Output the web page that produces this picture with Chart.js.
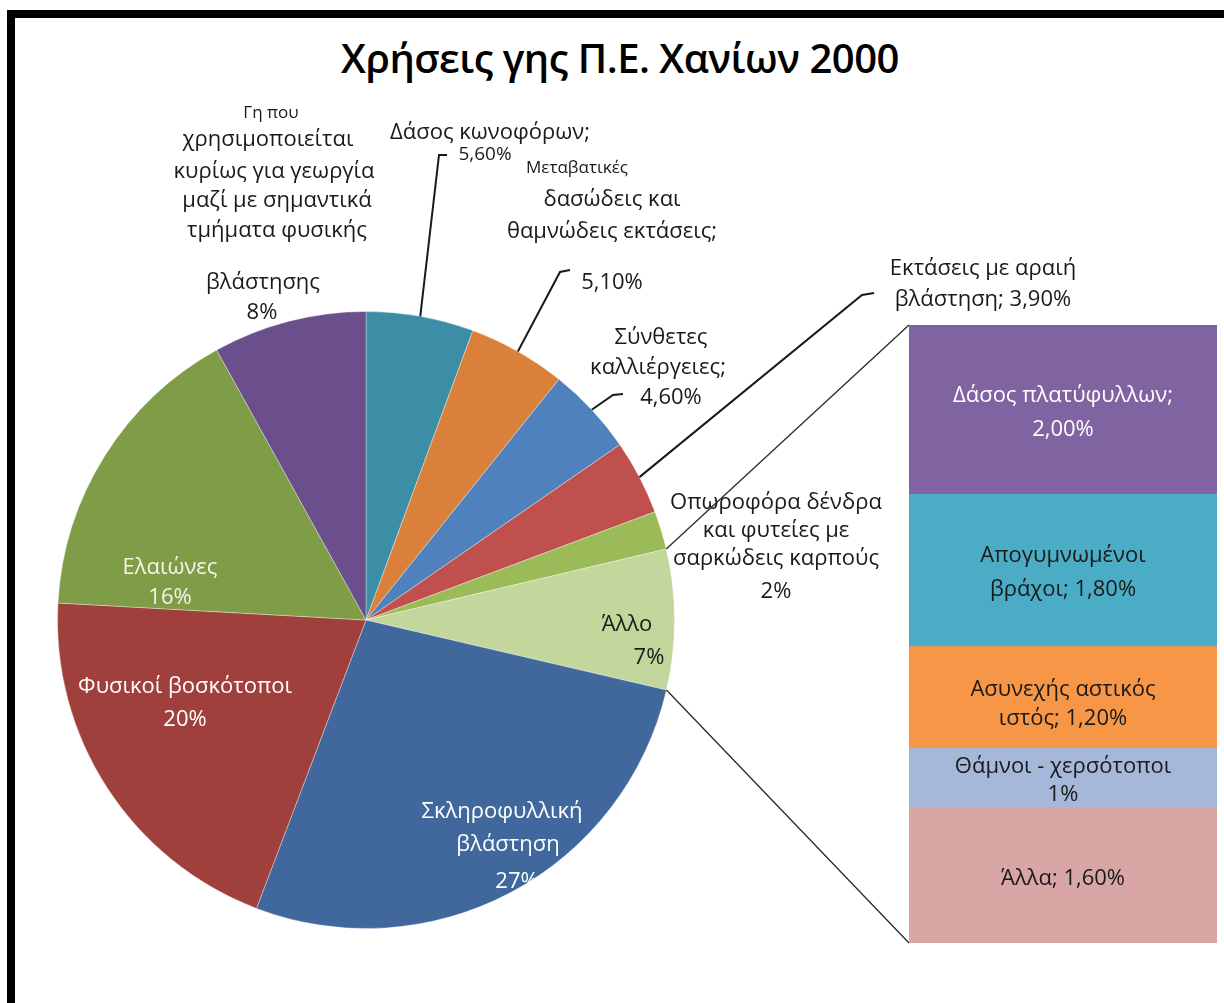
<!DOCTYPE html>
<html lang="el">
<head>
<meta charset="utf-8">
<title>Χρήσεις γης Π.Ε. Χανίων 2000</title>
<script src="https://cdn.jsdelivr.net/npm/chart.js@4.4.1/dist/chart.umd.min.js"></script>
<style>
  html, body { margin: 0; padding: 0; background: #fff; overflow: hidden; }
  #stage { position: relative; width: 1224px; height: 1003px; overflow: hidden; }
  #frame {
    position: absolute; left: 7px; top: 10px; width: 1300px; height: 1100px;
    border: 8px solid #000; box-sizing: border-box;
  }
  #title {
    position: absolute; left: 0; top: 28px; width: 1240px; text-align: center;
    font-family: "Open Sans", "Noto Sans", sans-serif; font-size: 40px; font-weight: 600;
    color: #000; line-height: 60px; letter-spacing: -0.5px;
  }
  canvas { position: absolute; left: 0; top: 0; }
</style>
</head>
<body>
<div id="stage">
  <div id="frame"></div>
  <div id="title">Χρήσεις γης Π.Ε. Χανίων 2000</div>
  <canvas id="pieChart" width="1224" height="1003"></canvas>
  <canvas id="barChart" width="1224" height="1003"></canvas>
</div>
<script>
// Bar of the "Άλλο" slice, top to bottom
const barCategories = ['Δάσος πλατύφυλλων', 'Απογυμνωμένοι βράχοι', 'Ασυνεχής αστικός ιστός', 'Θάμνοι - χερσότοποι', 'Άλλα'];
const barValues = [2.0, 1.8, 1.2, 0.7, 1.6];
const otherTotal = barValues.reduce((a, b) => a + b, 0);

// Pie slices, clockwise from 12 o'clock
const pieCategories = [
    'Δάσος κωνοφόρων',
    'Μεταβατικές δασώδεις και θαμνώδεις εκτάσεις',
    'Σύνθετες καλλιέργειες',
    'Εκτάσεις με αραιή βλάστηση',
    'Οπωροφόρα δένδρα και φυτείες με σαρκώδεις καρπούς',
    'Άλλο',
    'Σκληροφυλλική βλάστηση',
    'Φυσικοί βοσκότοποι',
    'Ελαιώνες',
    'Γη που χρησιμοποιείται κυρίως για γεωργία μαζί με σημαντικά τμήματα φυσικής βλάστησης'
];
const pieValues = [5.6, 5.1, 4.6, 3.9, 2, otherTotal, 27, 20, 16, 8];

const pieColors = ['#3B8EA5', '#D9813A', '#4F81BD', '#C0504D', '#9BBB59', '#C3D69B', '#41689C', '#A0403D', '#7F9C46', '#6A4F8C'];
const barColors = ['#8064A2', '#4BACC6', '#F79646', '#A5B8D9', '#D9A6A6'];

const FONT = '"Open Sans", "Noto Sans", sans-serif';
const DARK = '#1a1a1a';
const WHITE = '#ffffff';

const pct2 = v => v.toFixed(2).replace('.', ',') + '%';
const pct0 = v => Math.round(v) + '%';

// Label placement for the pie (same order as pieCategories)
const pieLabelLayout = [
    { lines: ['Δάσος κωνοφόρων;', '{v}'], fmt: 'dec', x: [490, 485], y: [133, 155], sizes: [22, 19], leader: [[439, 155], [447, 155]] },
    { lines: ['Μεταβατικές', 'δασώδεις και', 'θαμνώδεις εκτάσεις;', '{v}'], fmt: 'dec', x: [577, 612, 612, 612], y: [168, 200, 232, 283], sizes: [17, 22, 22, 22], leader: [[560, 272], [570, 270]] },
    { lines: ['Σύνθετες', 'καλλιέργειες;', '{v}'], fmt: 'dec', x: [661, 658, 671], y: [338, 368, 398], leader: [[613, 395], [623, 394]] },
    { lines: ['Εκτάσεις με αραιή', 'βλάστηση; {v}'], fmt: 'dec', x: 983, y: [269, 300], leader: [[862, 295], [874, 293]] },
    { lines: ['Οπωροφόρα δένδρα', 'και φυτείες με', 'σαρκώδεις καρπούς', '{v}'], fmt: 'int', x: 776, y: [503, 531, 559, 592] },
    { lines: ['Άλλο', '{v}'], fmt: 'int', x: [627, 649], y: [625, 658] },
    { lines: ['Σκληροφυλλική', 'βλάστηση', '{v}'], fmt: 'int', x: [502, 508, 517], y: [812, 845, 882], color: WHITE },
    { lines: ['Φυσικοί βοσκότοποι', '{v}'], fmt: 'int', x: 185, y: [687, 720], color: WHITE },
    { lines: ['Ελαιώνες', '{v}'], fmt: 'int', x: 170, y: [568, 598], color: '#f4f4ea' },
    { lines: ['Γη που', 'χρησιμοποιείται', 'κυρίως για γεωργία', 'μαζί με σημαντικά', 'τμήματα φυσικής', 'βλάστησης', '{v}'], fmt: 'int',
      x: [271, 268, 274, 277, 277, 263, 262], y: [113, 140, 172, 201, 231, 283, 313], sizes: [17, 22, 22, 22, 22, 22, 22] }
];

// Label placement inside the bar segments (same order as barCategories), offsets from segment centre
const barLabelLayout = [
    { lines: ['Δάσος πλατύφυλλων;', '{v}'], fmt: 'dec', dy: [-14, 20], color: WHITE },
    { lines: ['Απογυμνωμένοι', 'βράχοι; {v}'], fmt: 'dec', dy: [-15, 19] },
    { lines: ['Ασυνεχής αστικός', 'ιστός; {v}'], fmt: 'dec', dy: [-8, 21] },
    { lines: ['Θάμνοι - χερσότοποι', '{v}'], fmt: 'int', dy: [-11, 17] },
    { lines: ['Άλλα; {v}'], fmt: 'dec', dy: [3] }
];

function drawLines(ctx, item, value, xs, ys) {
    item.lines.forEach((line, k) => {
        const text = line.replace('{v}', item.fmt === 'dec' ? pct2(value) : pct0(value));
        const size = (item.sizes && item.sizes[k]) || 22;
        ctx.font = size + 'px ' + FONT;
        ctx.fillStyle = item.color || DARK;
        ctx.textAlign = 'center';
        ctx.textBaseline = 'middle';
        ctx.fillText(text, Array.isArray(xs) ? xs[k] : xs, ys[k]);
    });
}

const pieLabelPlugin = {
    id: 'pieLabels',
    afterDatasetsDraw(chart) {
        const ctx = chart.ctx;
        const arcs = chart.getDatasetMeta(0).data;
        ctx.save();
        pieLabelLayout.forEach((item, i) => {
            const arc = arcs[i];
            if (item.leader) {
                const mid = (arc.startAngle + arc.endAngle) / 2;
                ctx.beginPath();
                ctx.moveTo(arc.x + Math.cos(mid) * arc.outerRadius, arc.y + Math.sin(mid) * arc.outerRadius);
                item.leader.forEach(p => ctx.lineTo(p[0], p[1]));
                ctx.strokeStyle = DARK;
                ctx.lineWidth = 2;
                ctx.stroke();
            }
            drawLines(ctx, item, pieValues[i], item.x, item.y);
        });
        ctx.restore();
    }
};

const pieChart = new Chart(document.getElementById('pieChart'), {
    type: 'pie',
    data: {
        labels: pieCategories,
        datasets: [{
            data: pieValues,
            backgroundColor: pieColors,
            borderColor: 'rgba(255,255,255,0.35)',
            borderWidth: 1
        }]
    },
    options: {
        responsive: false,
        animation: false,
        events: [],
        layout: { padding: { left: 57, right: 549, top: 311, bottom: 74 } },
        plugins: {
            legend: { display: false },
            tooltip: { enabled: false }
        }
    },
    plugins: [pieLabelPlugin]
});

// Stacked bar draws first dataset at the bottom, so go bottom-up
const barOrder = barCategories.map((_, i) => i).reverse();

const barLabelPlugin = {
    id: 'barLabels',
    afterDatasetsDraw(chart) {
        const ctx = chart.ctx;
        ctx.save();
        barOrder.forEach((idx, dsIndex) => {
            const bar = chart.getDatasetMeta(dsIndex).data[0];
            const item = barLabelLayout[idx];
            const cy = (bar.y + bar.base) / 2;
            drawLines(ctx, item, barValues[idx], bar.x, item.dy.map(d => cy + d));
        });

        // connector lines from the "Άλλο" slice to the bar
        const other = pieChart.getDatasetMeta(0).data[pieCategories.indexOf('Άλλο')];
        const topBar = chart.getDatasetMeta(barOrder.length - 1).data[0];
        const bottomBar = chart.getDatasetMeta(0).data[0];
        const left = topBar.x - topBar.width / 2;
        ctx.strokeStyle = '#2a2a2a';
        ctx.lineWidth = 1.3;
        ctx.beginPath();
        ctx.moveTo(other.x + Math.cos(other.startAngle) * other.outerRadius, other.y + Math.sin(other.startAngle) * other.outerRadius);
        ctx.lineTo(left, topBar.y);
        ctx.moveTo(other.x + Math.cos(other.endAngle) * other.outerRadius, other.y + Math.sin(other.endAngle) * other.outerRadius);
        ctx.lineTo(left, bottomBar.base);
        ctx.stroke();
        ctx.restore();
    }
};

new Chart(document.getElementById('barChart'), {
    type: 'bar',
    data: {
        labels: ['Άλλο'],
        datasets: barOrder.map(i => ({
            label: barCategories[i],
            data: [barValues[i]],
            backgroundColor: barColors[i],
            borderWidth: 0,
            barPercentage: 1,
            categoryPercentage: 1
        }))
    },
    options: {
        responsive: false,
        animation: false,
        events: [],
        layout: { padding: { left: 909, right: 7, top: 325, bottom: 60 } },
        scales: {
            x: { display: false, stacked: true },
            y: { display: false, stacked: true, min: 0, max: otherTotal }
        },
        plugins: {
            legend: { display: false },
            tooltip: { enabled: false }
        }
    },
    plugins: [barLabelPlugin]
});
</script>
</body>
</html>
